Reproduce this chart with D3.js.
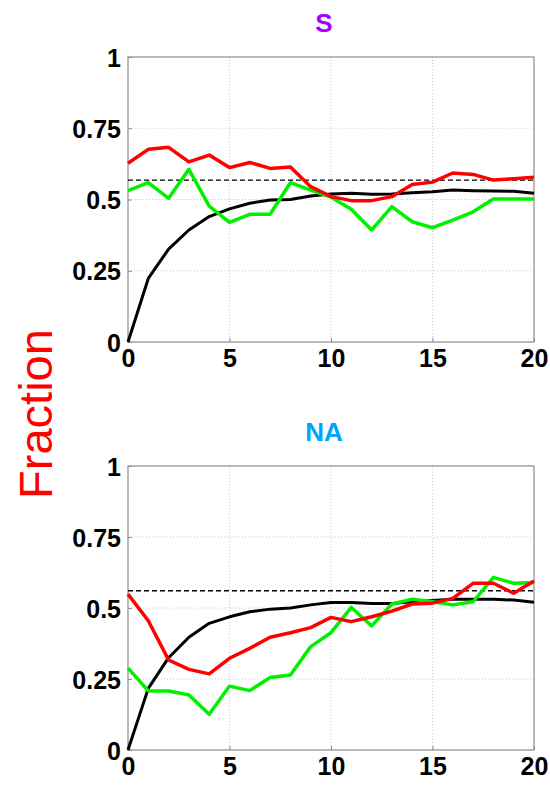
<!DOCTYPE html>
<html>
<head>
<meta charset="utf-8">
<style>
    body { margin: 0; background: #fff; }
    svg { display: block; font-family: 'Liberation Sans', Arial, sans-serif; }
    .tick text { font-weight: bold; fill: #000; }
</style>
</head>
<body>
<svg width="550" height="786"></svg>
<script src="https://d3js.org/d3.v7.min.js"></script>
<script>
    // lead times 0..20
    let steps = d3.range(0, 21);
    let xTicks = [0, 5, 10, 15, 20];
    let yTicks = [0, 0.25, 0.5, 0.75, 1];
    let yTickLabels = ["0", "0.25", "0.5", "0.75", "1"];

    // panel S
    let sRed = [0.627, 0.676, 0.683, 0.632, 0.656, 0.612, 0.630, 0.609, 0.614, 0.545, 0.510,
        0.496, 0.496, 0.510, 0.553, 0.561, 0.593, 0.588, 0.568, 0.573, 0.578];
    let sGreen = [0.531, 0.559, 0.504, 0.606, 0.477, 0.420, 0.448, 0.448, 0.559, 0.533, 0.508,
        0.466, 0.393, 0.475, 0.422, 0.401, 0.428, 0.457, 0.502, 0.502, 0.502];
    let sBlack = [0, 0.223, 0.326, 0.393, 0.440, 0.467, 0.487, 0.498, 0.500, 0.512, 0.519,
        0.522, 0.518, 0.519, 0.524, 0.527, 0.533, 0.531, 0.530, 0.529, 0.522];
    let sDashed = 0.568;

    // panel NA
    let naRed = [0.549, 0.455, 0.317, 0.284, 0.268, 0.323, 0.358, 0.397, 0.413, 0.431, 0.467,
        0.452, 0.469, 0.489, 0.514, 0.517, 0.534, 0.587, 0.587, 0.552, 0.595];
    let naGreen = [0.288, 0.208, 0.208, 0.194, 0.126, 0.225, 0.209, 0.255, 0.264, 0.364, 0.413,
        0.502, 0.437, 0.514, 0.531, 0.522, 0.511, 0.522, 0.608, 0.587, 0.590];
    let naBlack = [0, 0.217, 0.325, 0.397, 0.446, 0.469, 0.487, 0.496, 0.500, 0.511, 0.519,
        0.519, 0.516, 0.516, 0.522, 0.526, 0.531, 0.531, 0.531, 0.528, 0.520];
    let naDashed = 0.561;

    let panels = [
        { title: "S", color: "#a400ff", top: 57, bottom: 342, red: sRed, green: sGreen, black: sBlack, dashed: sDashed },
        { title: "NA", color: "#00a4ff", top: 466, bottom: 750, red: naRed, green: naGreen, black: naBlack, dashed: naDashed }
    ];

    let svg = d3.select("svg");
    let left = 128, right = 534;

    let x = d3.scaleLinear().domain([0, 20]).range([left, right]);

    panels.forEach(p => {
        let y = d3.scaleLinear().domain([0, 1]).range([p.bottom, p.top]);
        let g = svg.append("g");

        // grid
        g.selectAll(".vgrid")
            .data(xTicks.slice(1, -1))
            .join("line")
            .attr("x1", d => x(d)).attr("x2", d => x(d))
            .attr("y1", p.top).attr("y2", p.bottom)
            .style("stroke", "#c8c8c8")
            .style("stroke-width", 1)
            .style("stroke-dasharray", "1,2");

        g.selectAll(".hgrid")
            .data(yTicks.slice(1, -1))
            .join("line")
            .attr("x1", left).attr("x2", right)
            .attr("y1", d => y(d)).attr("y2", d => y(d))
            .style("stroke", "#c8c8c8")
            .style("stroke-width", 1)
            .style("stroke-dasharray", "1,2");

        // box
        g.append("rect")
            .attr("x", left).attr("y", p.top)
            .attr("width", right - left).attr("height", p.bottom - p.top)
            .style("fill", "none")
            .style("stroke", "#8c8c8c")
            .style("stroke-width", 1.2);

        // axes
        let xAxis = g.append("g")
            .attr("transform", `translate(0,${p.bottom})`)
            .call(d3.axisBottom(x).tickValues(xTicks).tickSize(-4).tickPadding(10));
        let yAxis = g.append("g")
            .attr("transform", `translate(${left},0)`)
            .call(d3.axisLeft(y).tickValues(yTicks).tickSize(-4).tickPadding(7)
                .tickFormat((d, i) => yTickLabels[i]));

        [xAxis, yAxis].forEach(a => {
            a.select(".domain").remove();
            a.selectAll(".tick line").style("stroke", "#8c8c8c");
            a.selectAll(".tick text").style("font-size", "25px");
        });
        xAxis.selectAll(".tick text").attr("dy", "0.9em").attr("y", 2);
        yAxis.selectAll(".tick text").attr("dy", "0.36em");

        let line = d3.line()
            .x((d, i) => x(steps[i]))
            .y(d => y(d));

        // dashed reference
        g.append("line")
            .attr("x1", left).attr("x2", right)
            .attr("y1", y(p.dashed)).attr("y2", y(p.dashed))
            .style("stroke", "#000")
            .style("stroke-width", 1.4)
            .style("stroke-dasharray", "5,3");

        g.append("path").datum(p.black).attr("d", line)
            .style("fill", "none").style("stroke", "#000").style("stroke-width", 3)
            .style("stroke-linejoin", "round");
        g.append("path").datum(p.green).attr("d", line)
            .style("fill", "none").style("stroke", "#00f000").style("stroke-width", 3.5)
            .style("stroke-linejoin", "round");
        g.append("path").datum(p.red).attr("d", line)
            .style("fill", "none").style("stroke", "#ff0000").style("stroke-width", 3.5)
            .style("stroke-linejoin", "round");

        // title
        svg.append("text")
            .attr("x", 324)
            .attr("y", p.top - 25)
            .attr("text-anchor", "middle")
            .style("font-size", "26px")
            .style("font-weight", "bold")
            .style("fill", p.color)
            .text(p.title);
    });

    svg.append("text")
        .attr("transform", "translate(52,414) rotate(-90)")
        .attr("text-anchor", "middle")
        .style("font-size", "47px")
        .style("fill", "#ff0000")
        .text("Fraction");
</script>
</body>
</html>
